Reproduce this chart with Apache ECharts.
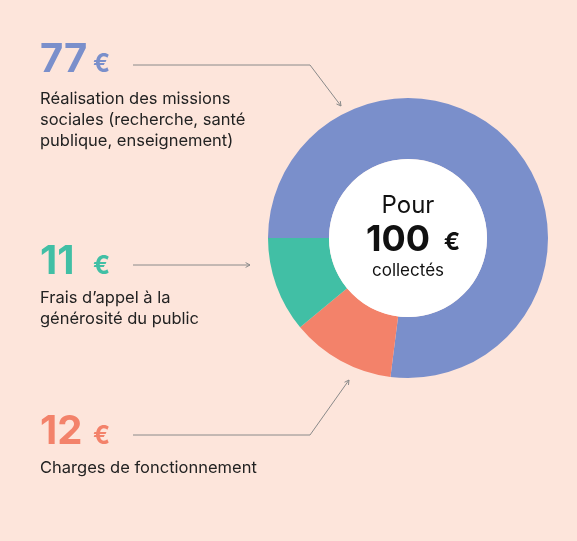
<!DOCTYPE html>
<html><head><meta charset="utf-8">
<script src="https://cdn.jsdelivr.net/npm/echarts@6/dist/echarts.min.js"></script>
<style>html,body{margin:0;padding:0;background:#fde5db}#c{width:577px;height:541px}</style>
</head><body><div id="c"></div>
<script>
const categories=['Réalisation des missions sociales (recherche, santé publique, enseignement)','Charges de fonctionnement','Frais d\u2019appel à la générosité du public'];
const values=[77,12,11];
const colors=['#7a8fcb','#f3826a','#41bfa5'];
const total=100;
const F='Inter, "Noto Sans", sans-serif';
const chart=echarts.init(document.getElementById('c'));
function big(x,y,num,col){return [
 {type:'text',z:100,left:x,top:y,style:{text:String(num),font:'bold 40px '+F,fill:col}},
 {type:'text',z:100,left:x+String(num).length*24+5,top:y+12,style:{text:'€',font:'bold 25px '+F,fill:col}}];}
function desc(x,y,t){return {type:'text',z:100,left:x,top:y,style:{text:t,font:'16.5px '+F,fill:'#222',lineHeight:21}};}
const lineStyle={stroke:'#8a8a8a',lineWidth:1,fill:null};
function arrow(x,y,ang){const a=ang*Math.PI/180,l=5;return {type:'polyline',z:100,shape:{points:[[x-l*Math.cos(a-0.5),y-l*Math.sin(a-0.5)],[x,y],[x-l*Math.cos(a+0.5),y-l*Math.sin(a+0.5)]]},style:lineStyle};}
function ctext(x,y,t,font){return {type:'text',z:100,x:x,y:y,style:{text:t,font:font,fill:'#111',align:'center',verticalAlign:'middle'}};}
chart.setOption({
 backgroundColor:'#fde5db',
 series:[{type:'pie',z:1,center:[408,238],radius:[79,140],startAngle:180,clockwise:true,silent:true,
   label:{show:false},labelLine:{show:false},
   data:values.map((v,i)=>({value:v,name:categories[i],itemStyle:{color:colors[i]}}))},
  {type:'pie',z:1,center:[408,238],radius:[0,79],silent:true,label:{show:false},data:[{value:1,itemStyle:{color:'#fff'}}]}],
 graphic:[
  ...big(40,40,values[0],colors[0]),
  desc(40,89,'Réalisation des missions\nsociales (recherche, santé\npublique, enseignement)'),
  ...big(40,242,values[2],colors[2]),
  desc(40,288,'Frais d\u2019appel à la\ngénérosité du public'),
  ...big(40,412,values[1],colors[1]),
  desc(40,458,'Charges de fonctionnement'),
  {type:'polyline',z:100,shape:{points:[[133,65],[310,65],[341,106]]},style:lineStyle},
  arrow(341,106,53),
  {type:'polyline',z:100,shape:{points:[[133,265],[250,265]]},style:lineStyle},
  arrow(250,265,0),
  {type:'polyline',z:100,shape:{points:[[133,435],[310,435],[349,380]]},style:lineStyle},
  arrow(349,380,-55),
  ctext(408,206,'Pour','24px '+F),
  ctext(398,240,String(total),'bold 36px '+F),
  ctext(452,243,'€','bold 24px '+F),
  ctext(408,271,'collectés','17px '+F)
 ]
});
</script></body></html>
